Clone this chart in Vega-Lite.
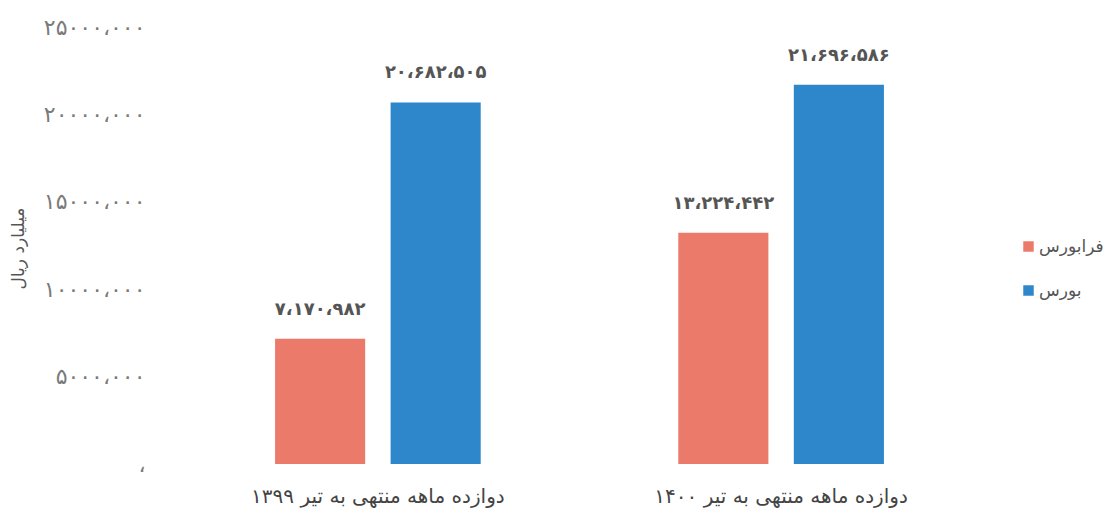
{
  "$schema": "https://vega.github.io/schema/vega-lite/v6.json",
  "autosize": "none",
  "width": 829,
  "height": 437,
  "padding": {"left": 165, "top": 27, "right": 116, "bottom": 54},
  "background": "white",
  "config": {"view": {"stroke": null}, "font": "DejaVu Sans"},
  "data": {
    "values": [
      {"period": "دوازده ماهه منتهی به تیر ۱۳۹۹", "market": "فرابورس", "value": 7170982, "label": "۷،۱۷۰،۹۸۲"},
      {"period": "دوازده ماهه منتهی به تیر ۱۳۹۹", "market": "بورس", "value": 20682505, "label": "۲۰،۶۸۲،۵۰۵"},
      {"period": "دوازده ماهه منتهی به تیر ۱۴۰۰", "market": "فرابورس", "value": 13224442, "label": "۱۳،۲۲۴،۴۴۲"},
      {"period": "دوازده ماهه منتهی به تیر ۱۴۰۰", "market": "بورس", "value": 21696586, "label": "۲۱،۶۹۶،۵۸۶"}
    ]
  },
  "encoding": {
    "x": {
      "field": "period", "type": "nominal",
      "sort": ["دوازده ماهه منتهی به تیر ۱۳۹۹", "دوازده ماهه منتهی به تیر ۱۴۰۰"],
      "scale": {"paddingInner": 0.49, "paddingOuter": 0.273},
      "axis": {"title": null, "labelAngle": 0, "domain": false, "ticks": false, "labelPadding": 22, "labelFontSize": 20, "labelLimit": 0, "labelColor": "#444444", "labelFont": "DejaVu Sans"}
    },
    "xOffset": {
      "field": "market", "type": "nominal",
      "sort": ["فرابورس", "بورس"],
      "scale": {"paddingInner": 0.22, "paddingOuter": 0}
    },
    "y": {
      "field": "value", "type": "quantitative",
      "scale": {"domain": [0, 25000000], "nice": false},
      "axis": {
        "title": "میلیارد ریال",
        "titleFontSize": 17, "titleFontWeight": "normal", "titleColor": "#555555",
        "titleX": -138, "titleY": 221, "titleAngle": -90,
        "grid": false, "domain": false, "ticks": false,
        "values": [0, 5000000, 10000000, 15000000, 20000000, 25000000],
        "labelPadding": 20, "labelFontSize": 22, "labelColor": "#7a7a7a",
        "labelExpr": "datum.value == 25000000 ? '۲۵۰۰۰،۰۰۰' : datum.value == 20000000 ? '۲۰۰۰۰،۰۰۰' : datum.value == 15000000 ? '۱۵۰۰۰،۰۰۰' : datum.value == 10000000 ? '۱۰۰۰۰،۰۰۰' : datum.value == 5000000 ? '۵۰۰۰،۰۰۰' : '،'"
      }
    },
    "color": {
      "field": "market", "type": "nominal",
      "sort": ["فرابورس", "بورس"],
      "scale": {"domain": ["فرابورس", "بورس"], "range": ["#EB7A6B", "#2E87CB"]},
      "legend": {
        "title": null, "orient": "none", "legendX": 855, "legendY": 211,
        "symbolType": "square", "symbolSize": 110, "symbolStrokeWidth": 0,
        "labelFontSize": 17, "labelColor": "#555555", "rowPadding": 26, "labelOffset": 2
      }
    }
  },
  "layer": [
    {"mark": {"type": "bar"}},
    {
      "mark": {"type": "text", "baseline": "bottom", "dy": -20, "fontSize": 18, "fontWeight": "bold", "color": "#555555"},
      "encoding": {"text": {"field": "label"}, "color": {"value": "#555555"}}
    }
  ]
}
